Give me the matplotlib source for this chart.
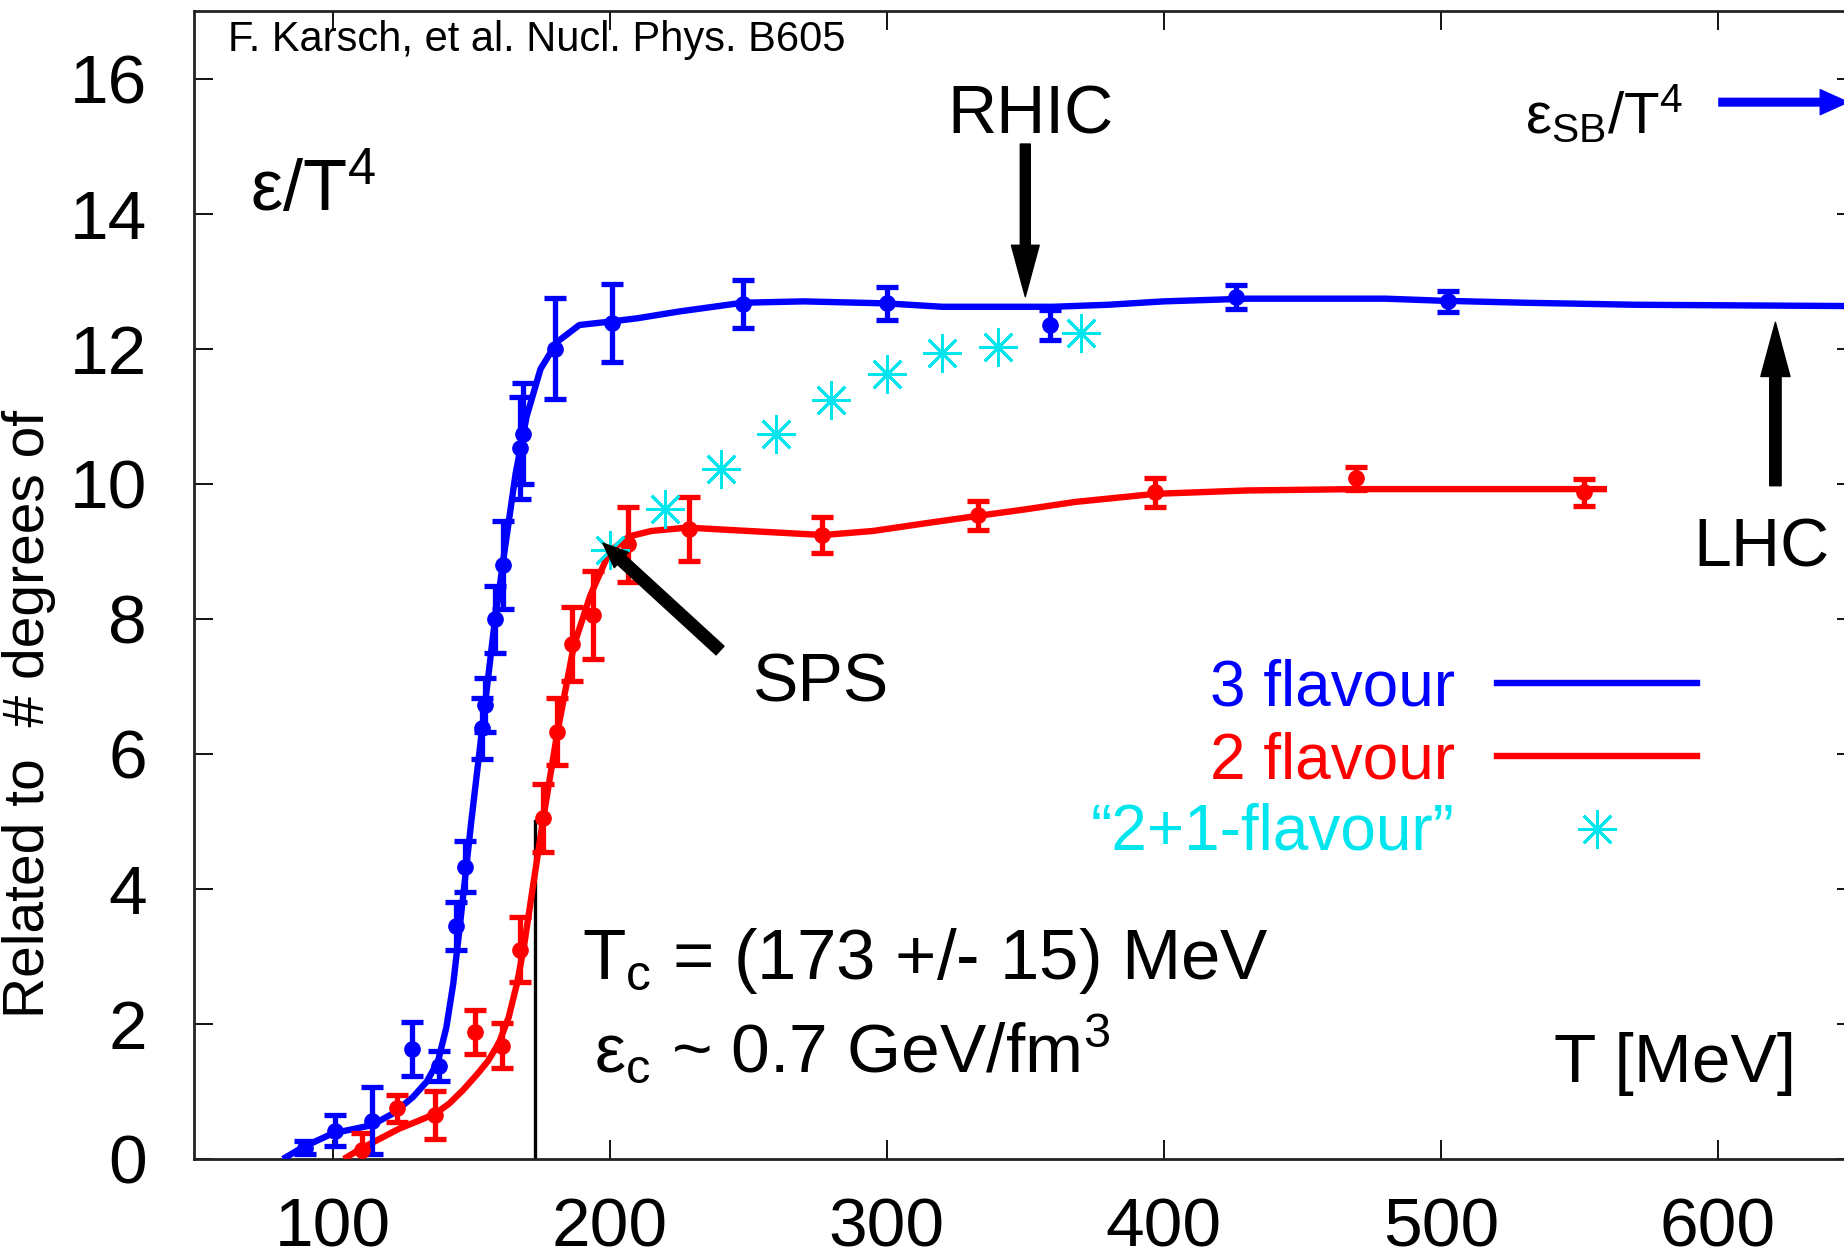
import matplotlib
matplotlib.use("Agg")
import matplotlib.pyplot as plt

plt.rcParams['font.family'] = ['Liberation Sans', 'DejaVu Sans']
plt.rcParams['mathtext.fontset'] = 'custom'
plt.rcParams['mathtext.rm'] = 'Liberation Sans'
plt.rcParams['mathtext.it'] = 'Liberation Sans'
plt.rcParams['mathtext.bf'] = 'Liberation Sans:bold'

# ---------------- data ----------------
# 3 flavour lattice points
T3 = [90, 100.8, 114, 128.7, 138.3, 144.3, 147.7, 153.7, 154.9, 158.5, 161.5,
      167.6, 168.8, 180.2, 200.9, 248, 300.2, 359, 426.2, 502.5]
e3 = [0.17, 0.42, 0.57, 1.63, 1.38, 3.45, 4.33, 6.38, 6.72, 7.99, 8.80,
      10.53, 10.74, 12.0, 12.38, 12.66, 12.67, 12.35, 12.76, 12.70]
err3 = [0.10, 0.23, 0.50, 0.40, 0.22, 0.35, 0.38, 0.45, 0.40, 0.50, 0.65,
        0.75, 0.75, 0.75, 0.58, 0.35, 0.25, 0.22, 0.18, 0.16]

# 3 flavour fit curve
T3_fit = [82, 89, 100, 114, 122, 129, 134, 138, 141, 143.5, 146, 150, 154, 158,
          162, 166, 170, 175, 181, 189, 200, 210, 225, 248, 270, 300, 320, 360,
          380, 400, 430, 480, 500, 530, 570, 650]
e3_fit = [0.0, 0.17, 0.38, 0.5, 0.68, 0.92, 1.15, 1.45, 1.95, 2.6, 3.5, 5.0,
          6.4, 7.8, 9.0, 10.15, 11.0, 11.7, 12.1, 12.35, 12.4, 12.45, 12.55,
          12.68, 12.7, 12.67, 12.62, 12.62, 12.65, 12.7, 12.74, 12.74, 12.71,
          12.68, 12.65, 12.63]

# 2 flavour lattice points
T2 = [110.4, 123, 136.9, 151.3, 161, 167.6, 176, 180.8, 186.2, 194, 206.7,
      228.5, 276.7, 333.1, 397, 469.5, 551.7]
e2 = [0.14, 0.75, 0.65, 1.88, 1.68, 3.10, 5.05, 6.33, 7.63, 8.06, 9.1,
      9.33, 9.24, 9.53, 9.87, 10.08, 9.87]
err2 = [0.25, 0.20, 0.35, 0.33, 0.33, 0.48, 0.50, 0.50, 0.55, 0.65, 0.55,
        0.47, 0.27, 0.22, 0.22, 0.17, 0.20]

# 2 flavour fit curve
T2_fit = [104, 110, 117, 124, 130, 137, 142, 147, 152, 156, 160, 163.5, 166.5,
          169, 172.5, 176, 181, 187, 193, 200, 207, 215, 228, 250, 277, 295,
          315, 334, 350, 368, 397, 430, 470, 520, 560]
e2_fit = [0.0, 0.15, 0.3, 0.45, 0.55, 0.67, 0.82, 1.02, 1.25, 1.45, 1.72, 2.1,
          2.6, 3.15, 4.1, 5.05, 6.3, 7.6, 8.35, 9.0, 9.22, 9.3, 9.35, 9.3, 9.24,
          9.3, 9.42, 9.53, 9.62, 9.73, 9.85, 9.9, 9.92, 9.92, 9.92]

# "2+1 flavour" points
T21 = [200, 220, 240, 260, 280, 300, 320, 340, 370]
e21 = [9.02, 9.63, 10.22, 10.74, 11.24, 11.63, 11.93, 12.03, 12.23]

x_ticks = [100, 200, 300, 400, 500, 600]
y_ticks = [0, 2, 4, 6, 8, 10, 12, 14, 16]
Tc = 173
eps_c_line_top = 5.0

BLUE = '#0000ff'
RED = '#ff0000'
CYAN = '#00e5ee'

# ---------------- figure ----------------
fig = plt.figure(figsize=(18.44, 12.6), dpi=100)
ax = fig.add_axes([194.3 / 1844, 101 / 1260, 1662 / 1844, 1148 / 1260])
ax.set_xlim(50, 650)
ax.set_ylim(0, 17)

# Tc line
ax.plot([Tc, Tc], [0, eps_c_line_top], color='black', lw=2.4, zorder=2)

# curves
ax.plot(T2_fit, e2_fit, color=RED, lw=4.6, zorder=3, solid_capstyle='butt',
        solid_joinstyle='round')
ax.plot(T3_fit, e3_fit, color=BLUE, lw=4.6, zorder=3, solid_capstyle='butt',
        solid_joinstyle='round')

# points with error bars
ax.errorbar(T2, e2, yerr=err2, fmt='o', color=RED, ms=11, elinewidth=3.8,
            capsize=8, capthick=3.8, zorder=4)
ax.errorbar(T3, e3, yerr=err3, fmt='o', color=BLUE, ms=11, elinewidth=3.8,
            capsize=8, capthick=3.8, zorder=4)

# 2+1 flavour
ax.plot(T21, e21, linestyle='none', marker=(8, 2, 0), ms=28, mew=2.0,
        color=CYAN, zorder=5)

# ---------------- axes styling ----------------
ax.set_xticks(x_ticks)
ax.set_yticks(y_ticks)
ax.set_xticklabels([str(v) for v in x_ticks])
ax.set_yticklabels([str(v) for v in y_ticks])
ax.tick_params(axis='both', direction='in', length=14, width=1.3,
               top=True, right=True, labelsize=50, colors='black')
ax.tick_params(axis='x', pad=27)
ax.tick_params(axis='y', pad=34)
for s in ax.spines.values():
    s.set_linewidth(2.0)
    s.set_color('#222222')

fig.text(0.001, (1260 - 714) / 1260, 'Related to  # degrees of', rotation=90,
         ha='left', va='center', fontsize=41)

# ---------------- annotations ----------------
ax.text(62.2, 16.41, 'F. Karsch, et al. Nucl. Phys. B605', fontsize=30,
        ha='left', va='baseline')
ax.text(70.1, 14.04, r'$\mathregular{ε/T^4}$', fontsize=52, ha='left',
        va='baseline')

# RHIC
ax.annotate('', xy=(350, 12.77), xytext=(350, 15.03),
            arrowprops=dict(width=7.2, headwidth=20, headlength=37, shrink=0,
                            color='black'), zorder=6)
ax.text(352, 15.18, 'RHIC', fontsize=49, ha='center', va='baseline')

# LHC
ax.annotate('', xy=(620.8, 12.39), xytext=(620.8, 9.97),
            arrowprops=dict(width=8.2, headwidth=21, headlength=39, shrink=0,
                            color='black'), zorder=6)
ax.text(615.8, 8.78, 'LHC', fontsize=49, ha='center', va='baseline')

# SPS
ax.annotate('', xy=(197.5, 9.12), xytext=(239.8, 7.53),
            arrowprops=dict(width=8.5, headwidth=15, headlength=18, shrink=0,
                            color='black'), zorder=6)
ax.text(251.6, 6.78, 'SPS', fontsize=49, ha='left', va='baseline')

# Stefan-Boltzmann limit
ax.text(530.4, 15.2, r'$\mathregular{ε_{SB}/T^4}$', fontsize=42, ha='left',
        va='baseline')
ax.annotate('', xy=(647, 15.65), xytext=(600.4, 15.65),
            arrowprops=dict(width=5.5, headwidth=18, headlength=20, shrink=0,
                            color=BLUE), zorder=6, annotation_clip=False)

# Tc / eps_c texts
ax.text(190, 2.66, r'$\mathregular{T_c}$ = (173 +/- 15) MeV', fontsize=51,
        ha='left', va='baseline')
ax.text(194.3, 1.29, r'$\mathregular{ε_c}$ ~ 0.7 GeV/$\mathregular{fm^3}$',
        fontsize=50, ha='left', va='baseline')
ax.text(541, 1.14, 'T [MeV]', fontsize=50, ha='left', va='baseline')

# legend (drawn as texts + sample marks)
ax.text(505, 6.72, '3 flavour', color=BLUE, fontsize=46, ha='right',
        va='baseline')
ax.plot([520.4, 592.6], [7.05, 7.05], color=BLUE, lw=4.6)
ax.text(505, 5.64, '2 flavour', color=RED, fontsize=46, ha='right',
        va='baseline')
ax.plot([520.4, 592.6], [5.97, 5.97], color=RED, lw=4.6)
ax.text(505, 4.59, '\u201c2+1-flavour\u201d', color=CYAN, fontsize=46,
        ha='right', va='baseline')
ax.plot([556.5], [4.89], linestyle='none', marker=(8, 2, 0), ms=28, mew=2.0,
        color=CYAN)

fig.savefig('out.png', dpi=100)
